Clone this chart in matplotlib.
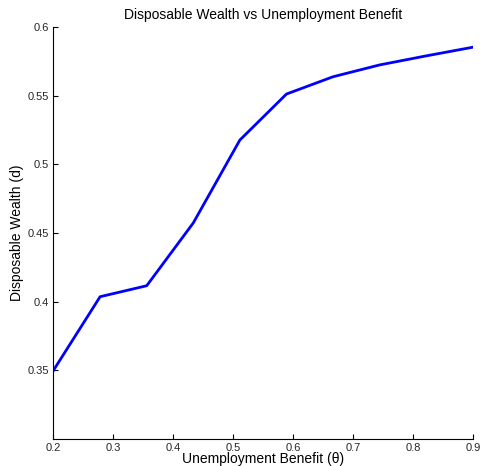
import matplotlib
matplotlib.use('Agg')
import matplotlib.pyplot as plt

# valores
theta = [0.2, 0.2778, 0.3556, 0.4333, 0.5111, 0.5889, 0.6667, 0.7444, 0.8222, 0.9]
wealth = [0.350, 0.4036, 0.4116, 0.4573, 0.5177, 0.5512, 0.5638, 0.5724, 0.5790, 0.5853]
x_ticks = [0.2, 0.3, 0.4, 0.5, 0.6, 0.7, 0.8, 0.9]
y_ticks = [0.35, 0.4, 0.45, 0.5, 0.55, 0.6]
y_labels = ['0.35', '0.4', '0.45', '0.5', '0.55', '0.6']

plt.rcParams['font.family'] = ['Liberation Sans', 'DejaVu Sans']

fig = plt.figure(figsize=(4.84, 4.66), dpi=100)
ax = fig.add_axes([0.1105, 0.058, 0.8665, 0.884])
ax.plot(theta, wealth, color='#0000ff', linewidth=2.0)

ax.set_xlim(0.2, 0.9)
ax.set_ylim(0.3, 0.6)
ax.set_xticks(x_ticks)
ax.set_xticklabels([str(t) for t in x_ticks])
ax.set_yticks(y_ticks)
ax.set_yticklabels(y_labels)
ax.tick_params(direction='in', length=3.5, width=0.8, labelsize=8, pad=3,
               labelcolor='#262626')
ax.spines['top'].set_visible(False)
ax.spines['right'].set_visible(False)

ax.set_title('Disposable Wealth vs Unemployment Benefit', fontsize=10, pad=6)
ax.set_xlabel('Unemployment Benefit (θ)', fontsize=10, labelpad=-1)
ax.set_ylabel('Disposable Wealth (d)', fontsize=10, labelpad=3)

plt.savefig('out.png', dpi=100)
